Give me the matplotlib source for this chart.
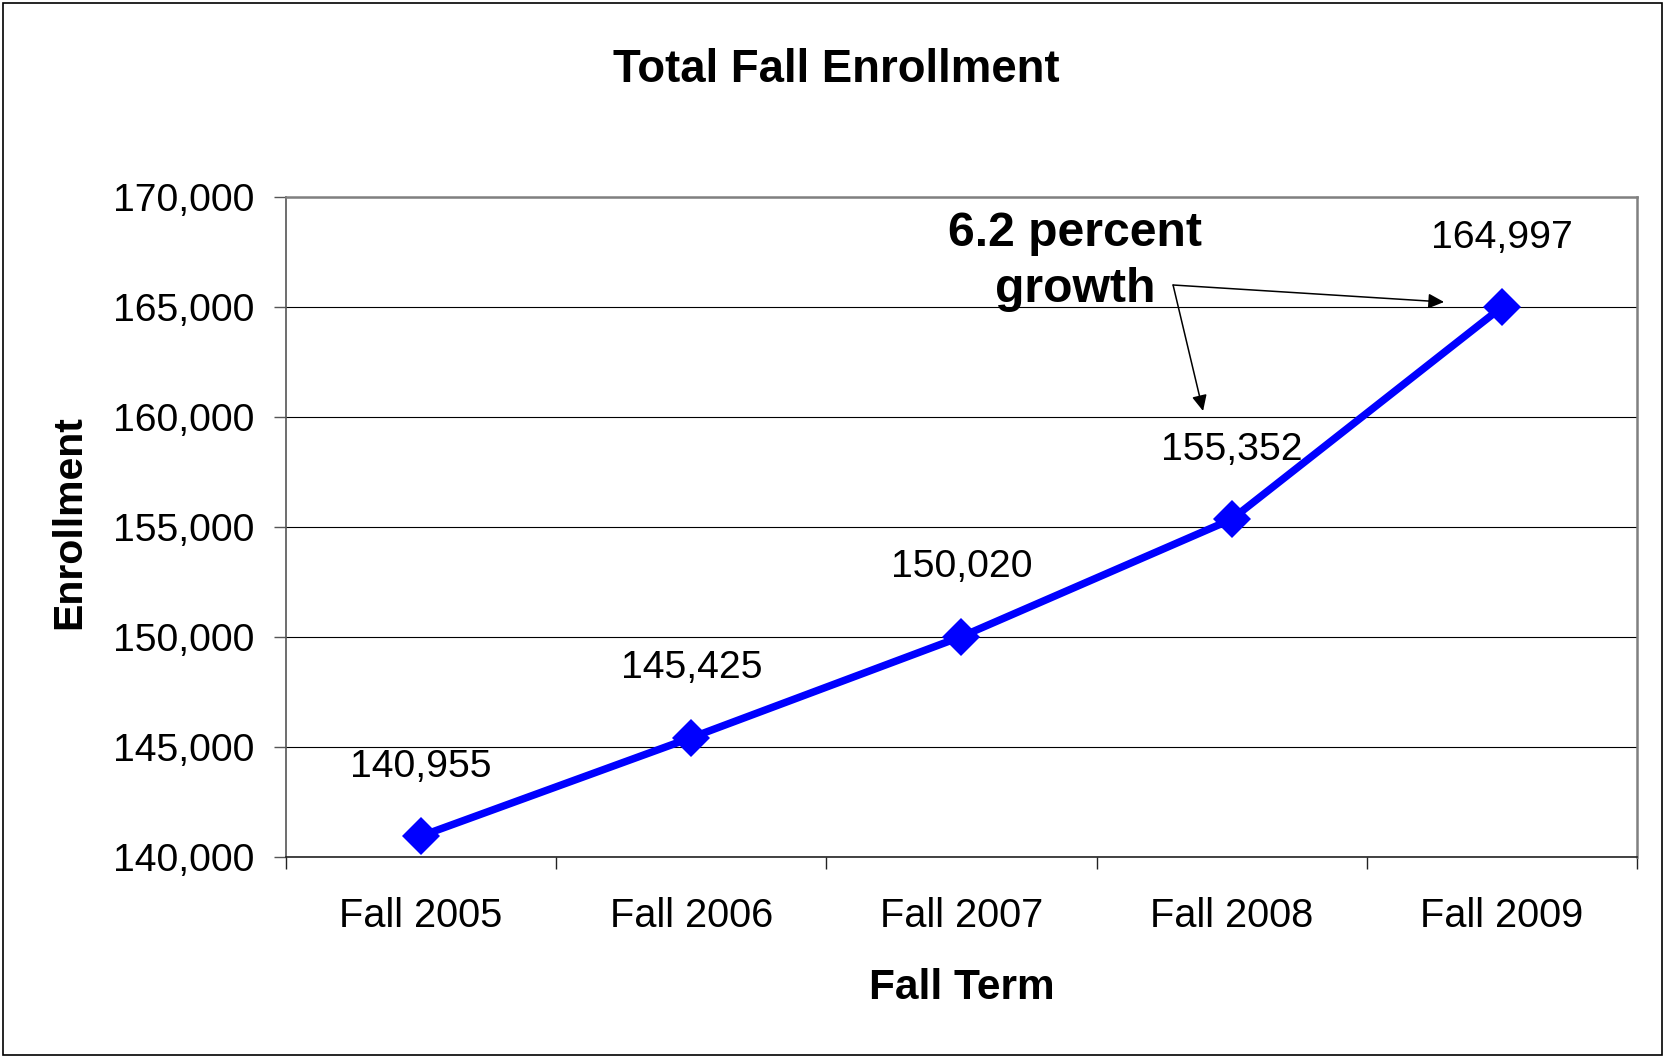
import matplotlib
matplotlib.use("Agg")
import matplotlib.pyplot as plt
from matplotlib.patches import Rectangle

plt.rcParams['font.family'] = ['Liberation Sans', 'DejaVu Sans']

terms = ['Fall 2005', 'Fall 2006', 'Fall 2007', 'Fall 2008', 'Fall 2009']
enrollment = [140955, 145425, 150020, 155352, 164997]
y_ticks = [140000, 145000, 150000, 155000, 160000, 165000, 170000]
title = 'Total Fall Enrollment'
note = '6.2 percent\ngrowth'

W, H = 1665, 1058
fig = plt.figure(figsize=(W / 100, H / 100), dpi=100)
ax = fig.add_axes([286 / W, 1 - 857 / H, (1637 - 286) / W, (857 - 197) / H])

x = list(range(len(terms)))
ax.plot(x, enrollment, color='#0000FF', lw=5.4, marker='D', ms=19,
        markeredgewidth=0, zorder=5, clip_on=False)

for xi, v in zip(x, enrollment):
    ax.annotate(f'{v:,}', (xi, v), xytext=(0, 50), textcoords='offset points',
                ha='center', va='center', fontsize=28.3, color='black')

ax.set_xlim(-0.5, len(terms) - 0.5)
ax.set_ylim(y_ticks[0], y_ticks[-1])
ax.set_yticks(y_ticks, [f'{t:,}' for t in y_ticks])
ax.set_xticks(x, terms)
ax.set_xticks([i - 0.5 for i in range(len(terms) + 1)], minor=True)
ax.tick_params(axis='x', which='major', length=0, pad=29, labelsize=28.6)
ax.tick_params(axis='x', which='minor', length=8.6, width=1, color='#222222', direction='out')
ax.tick_params(axis='y', which='major', length=8.6, width=1, color='#555555',
               direction='out', pad=14, labelsize=28.2)

ax.yaxis.grid(True, color='black', lw=0.8)
ax.set_axisbelow(True)

for s in ['top', 'right']:
    ax.spines[s].set_color('#808080')
    ax.spines[s].set_linewidth(1.8)
ax.spines['left'].set_color('#555555')
ax.spines['left'].set_linewidth(1.2)
ax.spines['bottom'].set_color('#222222')
ax.spines['bottom'].set_linewidth(1.2)

fig.text(836 / W, 1 - 70 / H, title, ha='center', va='center',
         fontsize=32.8, fontweight='bold')
fig.text(962 / W, 1 - 988 / H, 'Fall Term', ha='center', va='center',
         fontsize=30.5, fontweight='bold')
fig.text(69 / W, 1 - 522 / H, 'Enrollment', ha='center', va='center',
         rotation=90, fontsize=29.5, fontweight='bold')

# annotation
ax.text(2.42, 167050, note, ha='center', va='center', fontsize=34.7,
        fontweight='bold', linespacing=1.32)
src = (2.783, 166000)
for tgt in [(3.786, 165227), (2.894, 160273)]:
    ax.annotate('', xy=tgt, xytext=src, xycoords='data', textcoords='data',
                arrowprops=dict(arrowstyle='-|>,head_length=0.95,head_width=0.45',
                                mutation_scale=10, color='black', lw=1.1,
                                shrinkA=0, shrinkB=0))

fig.patches.append(Rectangle((3 / W, 3 / H), 1 - 6 / W, 1 - 6 / H,
                             transform=fig.transFigure, fill=False,
                             edgecolor='black', lw=1.2))

fig.savefig('out.png', dpi=100, facecolor='white')
